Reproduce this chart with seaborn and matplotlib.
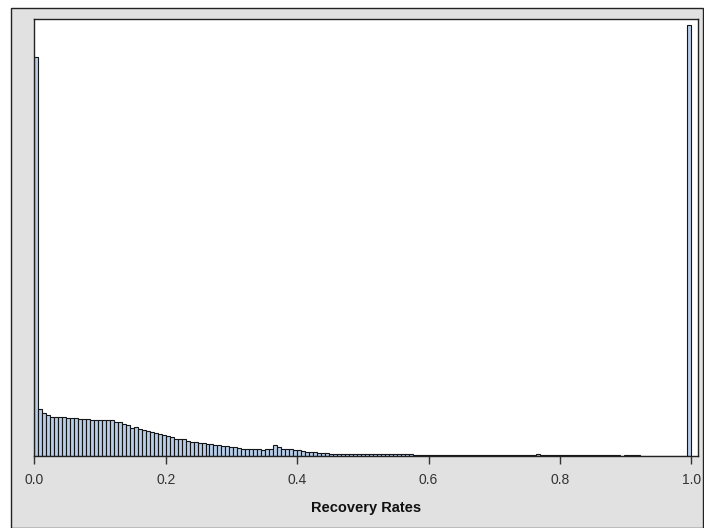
import matplotlib
matplotlib.use("Agg")
import matplotlib.pyplot as plt
import seaborn as sns
import numpy as np
import pandas as pd
from matplotlib.patches import Rectangle

# histogram heights per bin (relative counts; axis has no scale)
heights_low = [399, 46.7, 42.7, 40.7, 39.3, 39.3, 39.3, 39.3, 37.7, 37.7,
               37.7, 37, 37, 37, 35.7, 35.7, 35.7, 35.7, 35.7, 35.7,
               33.7, 33.7, 32.3, 31, 28.5, 29.3, 27.3, 26, 25, 24,
               23, 22, 21, 20.3, 18.7, 17.3, 16.7, 16.7, 15, 14.3]
heights_mid = [13.7, 12.7, 12.7, 12.3, 11.7, 11, 11, 10, 10, 9.3,
               9, 8.3, 7.3, 7.3, 7.3, 7.3, 7.3, 6, 7.3, 7.3,
               11, 8.7, 7.3, 7.3, 7.5, 6.3, 6.3, 5.5, 4.3, 4.3,
               4.3, 3.3, 3.3, 3.3, 2.5, 2.5, 2.5, 2.5, 2.5, 2.5,
               2.5, 2.5, 2.5, 2.5, 1.6, 1.6, 1.6, 1.6, 1.6, 1.6,
               1.6, 1.6, 1.6, 1.6, 1.6]
heights_tail = [0.7] * 31 + [2] + [0.7] * 20 + [0] + [0.7] * 4 + [0] * 12
heights_one = [431]

heights = heights_low + heights_mid + heights_tail + heights_one
n_bins = len(heights)
edges = np.linspace(0, 1, n_bins + 1)
centers = (edges[:-1] + edges[1:]) / 2

tick_vals = [0.0, 0.2, 0.4, 0.6, 0.8, 1.0]
tick_labels = ["0.0", "0.2", "0.4", "0.6", "0.8", "1.0"]

df = pd.DataFrame({'rate': centers, 'count': heights})

sns.set_style("white")
plt.rcParams['font.family'] = ['Liberation Sans', 'DejaVu Sans']

fig = plt.figure(figsize=(7.04, 5.28), dpi=100, facecolor='white')
# gray frame around the graph
frame = Rectangle((11 / 704, 0.5 / 528), 692 / 704, 520 / 528,
                  transform=fig.transFigure, facecolor='#e1e1e1',
                  edgecolor='#222222', linewidth=1.0, zorder=-10)
fig.patches.append(frame)

ax = fig.add_axes([33.5 / 704, 72 / 528, 664.2 / 704, 437 / 528])
ax.set_facecolor('white')

sns.histplot(data=df, x='rate', weights='count', bins=edges.tolist(), ax=ax,
             color='#b7cde8', edgecolor='#151515', linewidth=0.8, alpha=1)

ax.set_xlim(-0.0012, 1.0097)
ax.set_ylim(0, 437)
ax.set_yticks([])
ax.set_ylabel("")
ax.set_xticks(tick_vals)
ax.set_xticklabels(tick_labels, fontsize=10, color='#333333')
ax.tick_params(axis='x', direction='out', length=6, width=1, color='#333333', pad=6.5, bottom=True)
ax.set_xlabel("Recovery Rates", fontsize=10.5, fontweight='bold', labelpad=10, color='#111111')

for s in ax.spines.values():
    s.set_visible(True)
    s.set_color('#222222')
    s.set_linewidth(1.0)

plt.savefig("out.png", dpi=100, facecolor=fig.get_facecolor())
